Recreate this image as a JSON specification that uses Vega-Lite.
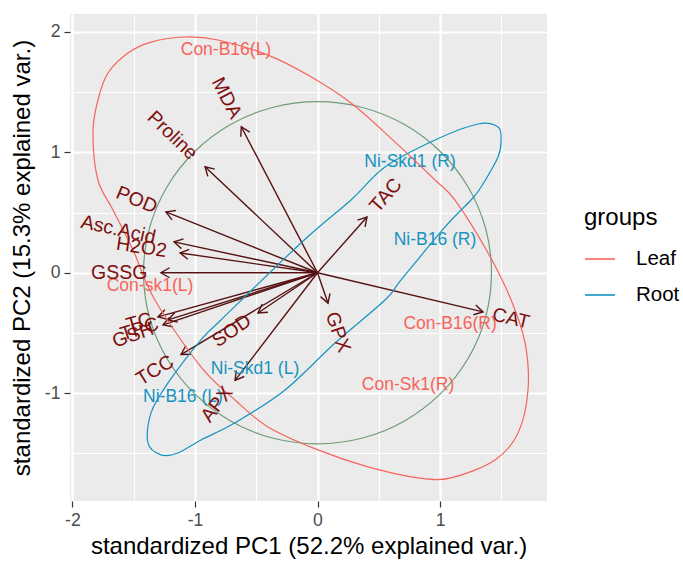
{
  "$schema": "https://vega.github.io/schema/vega-lite/v6.json",
  "width": 477,
  "height": 487,
  "padding": {"left": 10, "top": 14, "right": 5, "bottom": 0},
  "background": "white",
  "config": {
    "view": {"fill": "#EBEBEB", "stroke": null},
    "font": "Liberation Sans",
    "axis": {
      "domain": false,
      "grid": true,
      "gridColor": "white",
      "tickColor": "#333333",
      "tickSize": 6,
      "tickWidth": 1.2,
      "labelColor": "#4D4D4D",
      "labelFontSize": 17.6,
      "labelFont": "Liberation Sans",
      "labelPadding": 4,
      "titleFont": "Liberation Sans",
      "titleFontSize": 24,
      "titleFontWeight": "normal",
      "titleColor": "black"
    }
  },
  "datasets": {
    "circle": [
      {"i": 1, "x": 1.42, "y": 0}, {"i": 2, "x": 1.372, "y": 0.368}, {"i": 3, "x": 1.23, "y": 0.71},
      {"i": 4, "x": 1.004, "y": 1.004}, {"i": 5, "x": 0.71, "y": 1.23}, {"i": 6, "x": 0.368, "y": 1.372},
      {"i": 7, "x": 0, "y": 1.42}, {"i": 8, "x": -0.368, "y": 1.372}, {"i": 9, "x": -0.71, "y": 1.23},
      {"i": 10, "x": -1.004, "y": 1.004}, {"i": 11, "x": -1.23, "y": 0.71}, {"i": 12, "x": -1.372, "y": 0.368},
      {"i": 13, "x": -1.42, "y": 0}, {"i": 14, "x": -1.372, "y": -0.368}, {"i": 15, "x": -1.23, "y": -0.71},
      {"i": 16, "x": -1.004, "y": -1.004}, {"i": 17, "x": -0.71, "y": -1.23}, {"i": 18, "x": -0.368, "y": -1.372},
      {"i": 19, "x": 0, "y": -1.42}, {"i": 20, "x": 0.368, "y": -1.372}, {"i": 21, "x": 0.71, "y": -1.23},
      {"i": 22, "x": 1.004, "y": -1.004}, {"i": 23, "x": 1.23, "y": -0.71}, {"i": 24, "x": 1.372, "y": -0.368}
    ],
    "arrows": [
      {"var": "MDA", "x": -0.622, "y": 1.212},
      {"var": "Proline", "x": -0.918, "y": 0.88},
      {"var": "POD", "x": -1.237, "y": 0.505},
      {"var": "Asc.Acid", "x": -1.171, "y": 0.256},
      {"var": "H2O2", "x": -1.122, "y": 0.164},
      {"var": "GSSG", "x": -1.278, "y": 0.0},
      {"var": "TAC", "x": 0.404, "y": 0.463},
      {"var": "CAT", "x": 1.351, "y": -0.325},
      {"var": "GPX", "x": 0.086, "y": -0.253},
      {"var": "SOD", "x": -0.486, "y": -0.334},
      {"var": "TCC", "x": -1.114, "y": -0.679},
      {"var": "APX", "x": -0.673, "y": -0.894},
      {"var": "TC", "x": -1.302, "y": -0.367},
      {"var": "TPC", "x": -1.22, "y": -0.392},
      {"var": "GSH", "x": -1.261, "y": -0.433}
    ],
    "samples": [
      {"label": "Con-B16(L)", "group": "Leaf", "x": -0.747, "y": 1.849},
      {"label": "Con-sk1(L)", "group": "Leaf", "x": -1.367, "y": -0.11},
      {"label": "Con-B16(R)", "group": "Leaf", "x": 1.082, "y": -0.425},
      {"label": "Con-Sk1(R)", "group": "Leaf", "x": 0.739, "y": -0.928},
      {"label": "Ni-Skd1 (R)", "group": "Root", "x": 0.755, "y": 0.92},
      {"label": "Ni-B16 (R)", "group": "Root", "x": 0.959, "y": 0.272},
      {"label": "Ni-Skd1 (L)", "group": "Root", "x": -0.51, "y": -0.798},
      {"label": "Ni-B16 (L)", "group": "Root", "x": -1.098, "y": -1.031}
    ],
    "ellipses": [
      {"group": "Leaf", "i": 1, "x": -1.082, "y": 1.957},
      {"group": "Leaf", "i": 2, "x": -0.812, "y": 1.932},
      {"group": "Leaf", "i": 3, "x": -0.404, "y": 1.807},
      {"group": "Leaf", "i": 4, "x": -0.078, "y": 1.641},
      {"group": "Leaf", "i": 5, "x": 0.273, "y": 1.409},
      {"group": "Leaf", "i": 6, "x": 0.616, "y": 1.101},
      {"group": "Leaf", "i": 7, "x": 0.959, "y": 0.77},
      {"group": "Leaf", "i": 8, "x": 1.122, "y": 0.602},
      {"group": "Leaf", "i": 9, "x": 1.392, "y": 0.164},
      {"group": "Leaf", "i": 10, "x": 1.58, "y": -0.226},
      {"group": "Leaf", "i": 11, "x": 1.694, "y": -0.583},
      {"group": "Leaf", "i": 12, "x": 1.718, "y": -0.973},
      {"group": "Leaf", "i": 13, "x": 1.637, "y": -1.33},
      {"group": "Leaf", "i": 14, "x": 1.449, "y": -1.554},
      {"group": "Leaf", "i": 15, "x": 1.09, "y": -1.703},
      {"group": "Leaf", "i": 16, "x": 0.82, "y": -1.703},
      {"group": "Leaf", "i": 17, "x": 0.412, "y": -1.612},
      {"group": "Leaf", "i": 18, "x": 0.004, "y": -1.471},
      {"group": "Leaf", "i": 19, "x": -0.404, "y": -1.28},
      {"group": "Leaf", "i": 20, "x": -0.673, "y": -1.056},
      {"group": "Leaf", "i": 21, "x": -0.951, "y": -0.782},
      {"group": "Leaf", "i": 22, "x": -1.327, "y": -0.226},
      {"group": "Leaf", "i": 23, "x": -1.506, "y": 0.189},
      {"group": "Leaf", "i": 24, "x": -1.669, "y": 0.521},
      {"group": "Leaf", "i": 25, "x": -1.792, "y": 0.77},
      {"group": "Leaf", "i": 26, "x": -1.833, "y": 1.16},
      {"group": "Leaf", "i": 27, "x": -1.792, "y": 1.434},
      {"group": "Leaf", "i": 28, "x": -1.71, "y": 1.658},
      {"group": "Leaf", "i": 29, "x": -1.547, "y": 1.824},
      {"group": "Leaf", "i": 30, "x": -1.359, "y": 1.915},
      {"group": "Root", "i": 1, "x": 1.473, "y": 1.21},
      {"group": "Root", "i": 2, "x": 1.31, "y": 1.235},
      {"group": "Root", "i": 3, "x": 0.959, "y": 1.102},
      {"group": "Root", "i": 4, "x": 0.551, "y": 0.878},
      {"group": "Root", "i": 5, "x": 0.273, "y": 0.604},
      {"group": "Root", "i": 6, "x": -0.135, "y": 0.247},
      {"group": "Root", "i": 7, "x": -0.788, "y": -0.392},
      {"group": "Root", "i": 8, "x": -0.951, "y": -0.558},
      {"group": "Root", "i": 9, "x": -1.22, "y": -0.915},
      {"group": "Root", "i": 10, "x": -1.359, "y": -1.163},
      {"group": "Root", "i": 11, "x": -1.384, "y": -1.413},
      {"group": "Root", "i": 12, "x": -1.278, "y": -1.512},
      {"group": "Root", "i": 13, "x": -1.139, "y": -1.496},
      {"group": "Root", "i": 14, "x": -0.951, "y": -1.388},
      {"group": "Root", "i": 15, "x": -0.673, "y": -1.246},
      {"group": "Root", "i": 16, "x": -0.265, "y": -0.973},
      {"group": "Root", "i": 17, "x": 0.143, "y": -0.583},
      {"group": "Root", "i": 18, "x": 0.551, "y": -0.226},
      {"group": "Root", "i": 19, "x": 0.682, "y": -0.06},
      {"group": "Root", "i": 20, "x": 1.041, "y": 0.38},
      {"group": "Root", "i": 21, "x": 1.253, "y": 0.604},
      {"group": "Root", "i": 22, "x": 1.335, "y": 0.712},
      {"group": "Root", "i": 23, "x": 1.473, "y": 0.961},
      {"group": "Root", "i": 24, "x": 1.498, "y": 1.102}
    ]
  },
  "encoding": {
    "x": {
      "field": "x", "type": "quantitative",
      "scale": {"domain": [-2.02, 1.873], "nice": false, "zero": false},
      "axis": {
        "title": "standardized PC1 (52.2% explained var.)",
        "values": [-2, -1.5, -1, -0.5, 0, 0.5, 1, 1.5],
        "labelExpr": "datum.value % 1 === 0 ? toString(datum.value) : ''",
        "labelOverlap": false,
        "gridWidth": {"condition": {"test": "datum.value % 1 === 0", "value": 2.2}, "value": 1.1},
        "tickOpacity": {"condition": {"test": "datum.value % 1 === 0", "value": 1}, "value": 0},
        "titlePadding": 6
      }
    },
    "y": {
      "field": "y", "type": "quantitative",
      "scale": {"domain": [-1.895, 2.148], "nice": false, "zero": false},
      "axis": {
        "title": "standardized PC2 (15.3% explained var.)",
        "values": [-1.5, -1, -0.5, 0, 0.5, 1, 1.5, 2],
        "labelExpr": "datum.value % 1 === 0 ? toString(datum.value) : ''",
        "labelOverlap": false,
        "gridWidth": {"condition": {"test": "datum.value % 1 === 0", "value": 2.2}, "value": 1.1},
        "tickOpacity": {"condition": {"test": "datum.value % 1 === 0", "value": 1}, "value": 0},
        "titlePadding": 10
      }
    }
  },
  "layer": [
    {
      "data": {"name": "circle"},
      "mark": {"type": "line", "interpolate": "cardinal-closed", "color": "#6F9C78", "strokeWidth": 1.2},
      "encoding": {"order": {"field": "i", "type": "quantitative"}}
    },
    {
      "data": {"name": "arrows"},
      "mark": {"type": "rule", "color": "#561212", "strokeWidth": 1.4},
      "encoding": {"x2": {"datum": 0}, "y2": {"datum": 0}}
    },
    {
      "data": {"name": "arrows"},
      "transform": [{"calculate": "atan2(-datum.y, datum.x) * 180 / PI", "as": "ang"}],
      "mark": {"type": "point", "shape": "M -1 -0.577 L 0 0 L -1 0.577", "filled": false, "size": 300, "strokeWidth": 1.4, "color": "#561212", "opacity": 1},
      "encoding": {"angle": {"field": "ang", "type": "quantitative", "scale": null}}
    },
    {
      "data": {"name": "samples"},
      "mark": {"type": "text", "fontSize": 17.5, "align": "center", "baseline": "middle"},
      "encoding": {
        "text": {"field": "label"},
        "color": {"field": "group", "type": "nominal"}
      }
    },
    {
      "data": {"name": "ellipses"},
      "mark": {"type": "line", "interpolate": "cardinal-closed", "strokeWidth": 1.2},
      "encoding": {
        "order": {"field": "i", "type": "quantitative"},
        "detail": {"field": "group", "type": "nominal"},
        "color": {
          "field": "group", "type": "nominal",
          "scale": {"domain": ["Leaf", "Root"], "range": ["#F6645B", "#1694BF"]},
          "legend": {
            "title": "groups", "orient": "none", "legendX": 514, "legendY": 192,
            "titleFontSize": 24, "titleFontWeight": "normal", "titleColor": "black", "titlePadding": 13,
            "labelFontSize": 20.5, "labelColor": "black", "labelOffset": 20,
            "symbolType": "stroke", "symbolSize": 900, "symbolStrokeWidth": 1.6, "rowPadding": 9
          }
        }
      }
    },
    {
      "data": {"name": "arrows"},
      "transform": [
        {"filter": "datum.x < 0 && indexof(['Asc.Acid','Proline','H2O2','GSSG','TC'], datum.var) < 0"},
        {"calculate": "-atan(datum.y / datum.x) * 180 / PI", "as": "ta"}
      ],
      "mark": {"type": "text", "align": "right", "baseline": "middle", "dx": -10.5, "fontSize": 19.5, "color": "#7D0F0F"},
      "encoding": {"text": {"field": "var"}, "angle": {"field": "ta", "type": "quantitative", "scale": null}}
    },
    {
      "data": {"name": "arrows"},
      "transform": [
        {"filter": "datum.var === 'Asc.Acid'"},
        {"calculate": "-atan(datum.y / datum.x) * 180 / PI", "as": "ta"}
      ],
      "mark": {"type": "text", "align": "right", "baseline": "middle", "dx": -19, "fontSize": 19.5, "color": "#7D0F0F"},
      "encoding": {"text": {"field": "var"}, "angle": {"field": "ta", "type": "quantitative", "scale": null}}
    },
    {
      "data": {"name": "arrows"},
      "transform": [
        {"filter": "datum.var === 'Proline'"},
        {"calculate": "-atan(datum.y / datum.x) * 180 / PI", "as": "ta"}
      ],
      "mark": {"type": "text", "align": "right", "baseline": "middle", "dx": -15, "fontSize": 19.5, "color": "#7D0F0F"},
      "encoding": {"text": {"field": "var"}, "angle": {"field": "ta", "type": "quantitative", "scale": null}}
    },
    {
      "data": {"name": "arrows"},
      "transform": [
        {"filter": "datum.var === 'H2O2' || datum.var === 'GSSG'"},
        {"calculate": "-atan(datum.y / datum.x) * 180 / PI", "as": "ta"}
      ],
      "mark": {"type": "text", "align": "right", "baseline": "middle", "dx": -13.5, "fontSize": 19.5, "color": "#7D0F0F"},
      "encoding": {"text": {"field": "var"}, "angle": {"field": "ta", "type": "quantitative", "scale": null}}
    },
    {
      "data": {"name": "arrows"},
      "transform": [
        {"filter": "datum.var === 'TC'"},
        {"calculate": "-atan(datum.y / datum.x) * 180 / PI", "as": "ta"}
      ],
      "mark": {"type": "text", "align": "right", "baseline": "middle", "dx": -6.5, "fontSize": 19.5, "color": "#7D0F0F"},
      "encoding": {"text": {"field": "var"}, "angle": {"field": "ta", "type": "quantitative", "scale": null}}
    },
    {
      "data": {"name": "arrows"},
      "transform": [
        {"filter": "datum.x > 0"},
        {"calculate": "-atan(datum.y / datum.x) * 180 / PI", "as": "ta"}
      ],
      "mark": {"type": "text", "align": "left", "baseline": "middle", "dx": 10, "fontSize": 19.5, "color": "#7D0F0F"},
      "encoding": {"text": {"field": "var"}, "angle": {"field": "ta", "type": "quantitative", "scale": null}}
    }
  ]
}
